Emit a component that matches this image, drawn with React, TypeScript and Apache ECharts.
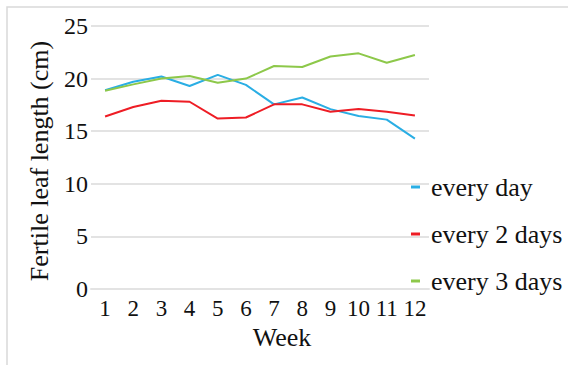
import React, { useEffect, useRef } from "react";
import * as echarts from "echarts";

const weeks = ["1", "2", "3", "4", "5", "6", "7", "8", "9", "10", "11", "12"];
const everyDay = [18.9, 19.7, 20.2, 19.3, 20.35, 19.4, 17.55, 18.2, 17.1, 16.45, 16.1, 14.3];
const every2Days = [16.4, 17.3, 17.9, 17.8, 16.2, 16.3, 17.55, 17.55, 16.85, 17.1, 16.85, 16.5];
const every3Days = [18.85, 19.45, 20.0, 20.25, 19.6, 20.0, 21.2, 21.1, 22.1, 22.4, 21.5, 22.25];
const seriesNames = ["every day", "every 2 days", "every 3 days"];
const colors = ["#2aaee4", "#ee1d25", "#8dc84a"];

const FONT = "Liberation Serif";

export default function App() {
  const ref = useRef<HTMLDivElement>(null);
  useEffect(() => {
    if (!ref.current) return;
    const chart = echarts.init(ref.current, null, { renderer: "svg" });
    const mk = (name: string, data: number[], color: string) => ({
      name,
      type: "line",
      data,
      symbol: "none",
      lineStyle: { color, width: 2 },
      itemStyle: { color },
    });
    chart.setOption({
      animation: false,
      backgroundColor: "#ffffff",
      textStyle: { fontFamily: FONT },
      grid: { left: 91, right: 139, top: 26, bottom: 76 },
      xAxis: {
        type: "category",
        data: weeks,
        boundaryGap: true,
        axisLine: { show: true, lineStyle: { color: "#e3e3e3", width: 2 } },
        axisTick: { show: false },
        axisLabel: { color: "#111", fontSize: 23, fontFamily: FONT, margin: 8, interval: 0 },
      },
      yAxis: {
        type: "value",
        min: 0,
        max: 25,
        interval: 5,
        axisLine: { show: false },
        axisTick: { show: false },
        axisLabel: { color: "#111", fontSize: 24, fontFamily: FONT, margin: 3 },
        splitLine: { lineStyle: { color: "#e3e3e3", width: 2 } },
      },
      legend: {
        orient: "vertical",
        left: 411,
        top: 174,
        padding: 0,
        itemGap: 21,
        itemWidth: 9,
        itemHeight: 3,
        icon: "rect",
        textStyle: { color: "#111", fontSize: 26, fontFamily: FONT, lineHeight: 26, padding: [0, 0, 0, 6] },
        data: seriesNames,
      },
      graphic: [
        {
          type: "rect",
          shape: { x: 7, y: 7, width: 700, height: 500 },
          style: { fill: "none", stroke: "#d9d9d9", lineWidth: 1.5 },
          silent: true,
          z: -1,
        },
        {
          type: "text",
          x: 39,
          y: 161,
          rotation: Math.PI / 2,
          style: {
            text: "Fertile leaf length (cm)",
            fontSize: 26,
            fontFamily: FONT,
            fill: "#111",
            align: "center",
            verticalAlign: "middle",
          },
        },
        {
          type: "text",
          x: 282,
          y: 337,
          style: {
            text: "Week",
            fontSize: 26,
            fontFamily: FONT,
            fill: "#111",
            align: "center",
            verticalAlign: "middle",
          },
        },
      ],
      series: [
        mk(seriesNames[0], everyDay, colors[0]),
        mk(seriesNames[1], every2Days, colors[1]),
        mk(seriesNames[2], every3Days, colors[2]),
      ],
    });
    return () => chart.dispose();
  }, []);
  return (
    <div
      ref={ref}
      style={{ position: "fixed", left: 0, top: 0, width: 568, height: 365 }}
    />
  );
}
